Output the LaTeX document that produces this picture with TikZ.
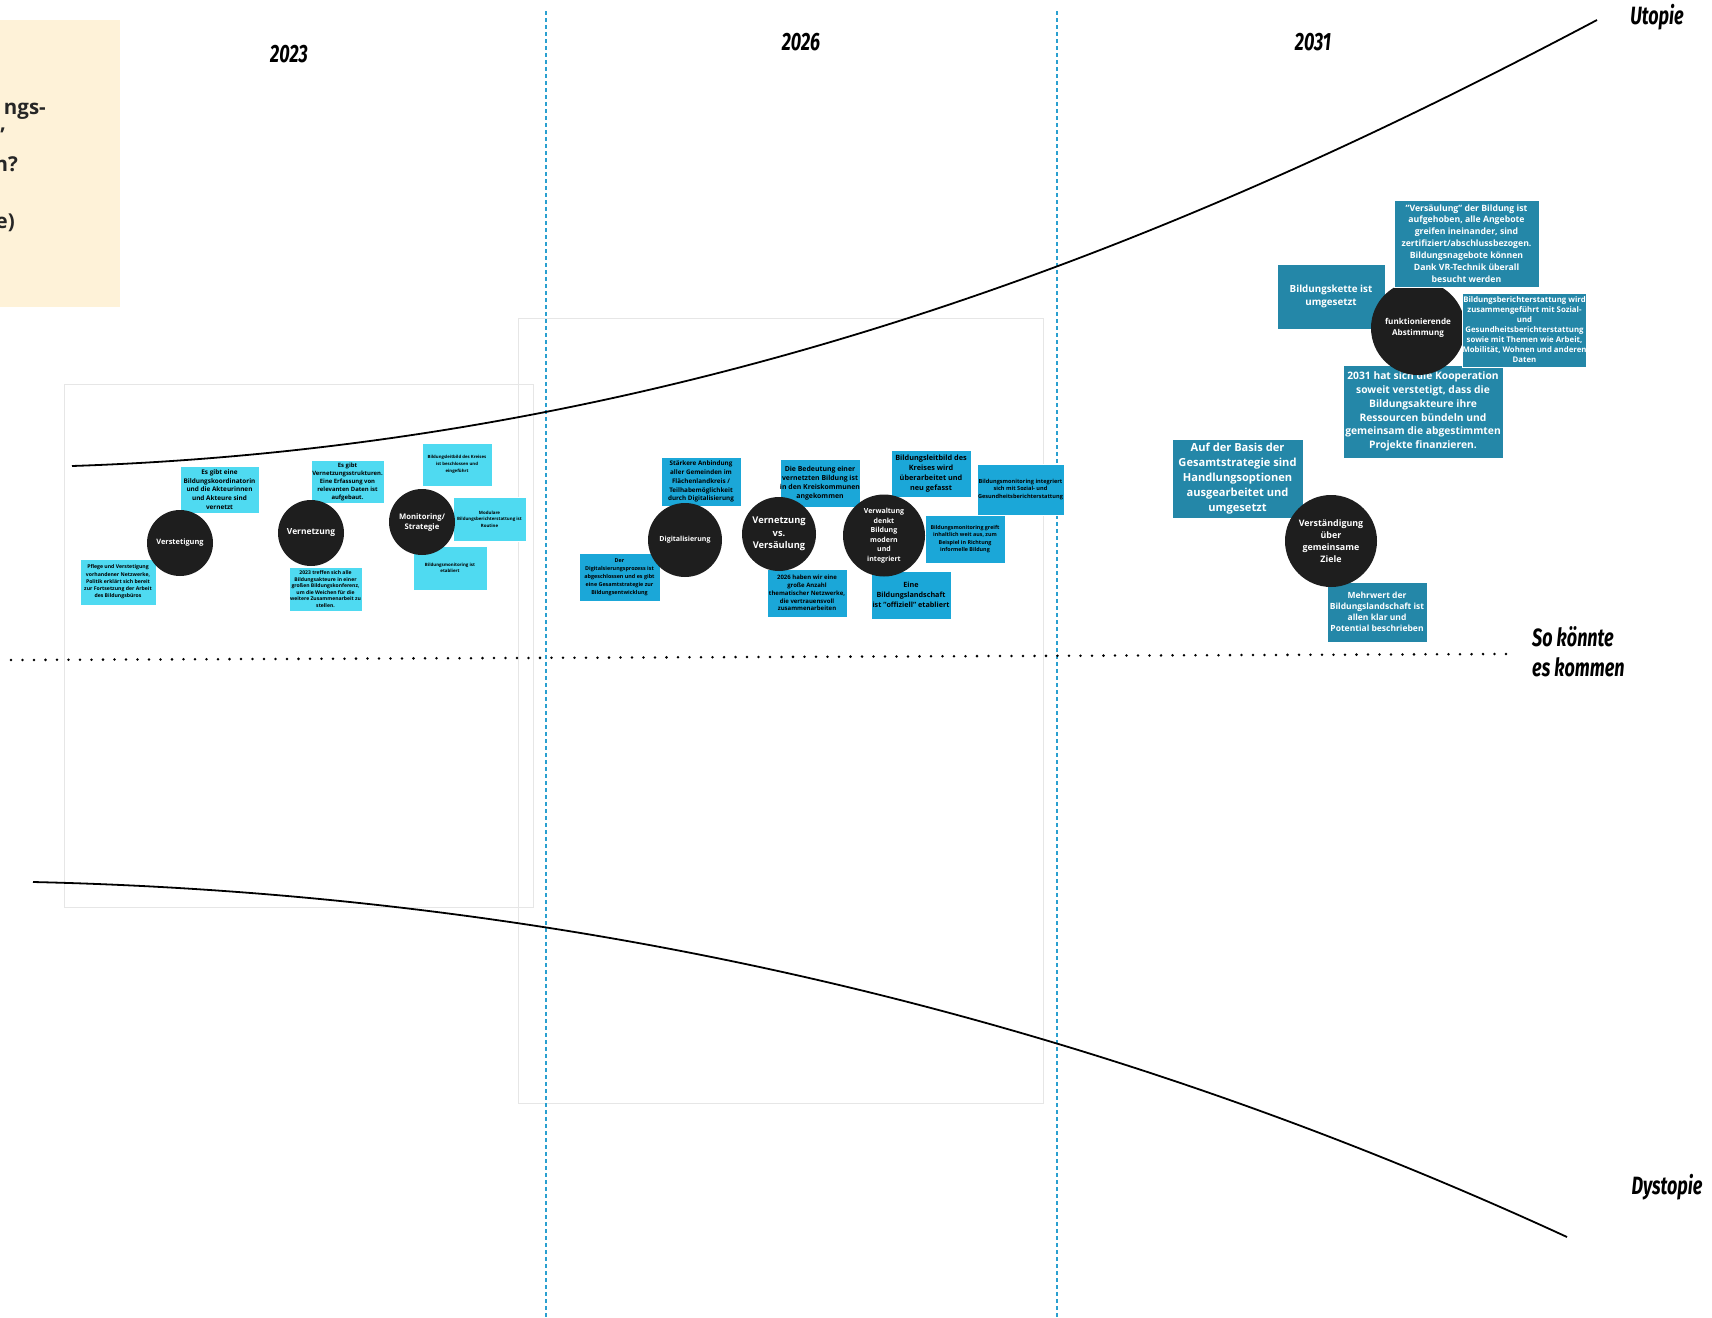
\documentclass[tikz,border=0pt]{standalone}
\usepackage{fontspec}
\setmainfont{Open Sans}
\newfontfamily\hand[FakeStretch=0.72]{Fira Sans}
\definecolor{cyA}{HTML}{4FDAF1}
\definecolor{cyB}{HTML}{1BA7D8}
\definecolor{tealC}{HTML}{2487A8}
\definecolor{discc}{HTML}{1E1E1E}
\definecolor{yel}{HTML}{FEF2D8}
\definecolor{vblue}{HTML}{2AA0D0}
\definecolor{framec}{HTML}{E6E6E6}
\tikzset{
  fs/.style 2 args={font={\fontsize{#1}{#2}\selectfont\bfseries}},
  stk/.style={rectangle, draw=white, line width=0.8pt, inner sep=0pt, align=center},
  c1/.style={stk, fill=cyA, text=black},
  c2/.style={stk, fill=cyB, text=black},
  c3/.style={stk, fill=tealC, text=white},
  disc/.style={circle, fill=discc, inner sep=0pt, align=center, text=white},
  handlbl/.style={font={\hand\fontsize{25}{30}\selectfont\bfseries\itshape}, inner sep=0pt, align=left},
  curveline/.style={line width=1.8pt, black},
  vline/.style={vblue, line width=1.8pt, dash pattern=on 4pt off 3pt},
  frameline/.style={framec, line width=1pt},
  yeltext/.style={font={\fontsize{20.5}{25}\selectfont\bfseries}, inner sep=0pt, text=black!85}
}
\begin{document}
\begin{tikzpicture}[x=1pt,y=-1pt]
\useasboundingbox (0,0) rectangle (1712,1317);
\fill[white] (0,0) rectangle (1712,1317);

% faint frames
\draw[frameline] (64,384) rectangle (533,907);
\draw[frameline] (518,318) rectangle (1043,1103);

% yellow note (clipped at the left edge)
\fill[yel] (0,20) rectangle (120,307);
\begin{scope}
\clip (0,20) rectangle (120,307);
\node[yeltext, anchor=base east] (y1) at (46,114) {ngs-};
\node[yeltext, anchor=base east] (y2) at (5,142) {'};
\node[yeltext, anchor=base east] (y3) at (18,171) {n?};
\node[yeltext, anchor=base east] (y4) at (15,228) {e)};
\end{scope}

% vertical dashed separators
\coordinate (va) at (546,11);
\coordinate (vb) at (546,1317);
\coordinate (vc) at (1057,11);
\coordinate (vd) at (1057,1317);
\draw[vline] (va) -- (vb);
\draw[vline] (vc) -- (vd);

% curves
\coordinate (u0) at (72,466);
\coordinate (u1) at (1597,20);
\draw[curveline] (u0) .. controls (700,445) and (1200,230) .. (u1);
\coordinate (d0) at (33,882);
\coordinate (d1) at (1567,1237);
\draw[curveline] (d0) .. controls (640,896) and (1150,1045) .. (d1);
\coordinate (h0) at (11,660);
\coordinate (h1) at (1507,654);
\draw[line width=2.8pt, line cap=round, dash pattern=on 0pt off 11.5pt] (h0) -- (h1);

% labels
\node[handlbl] (y2023) at (289,54) {2023};
\node[handlbl] (y2026) at (801,42) {2026};
\node[handlbl] (y2031) at (1313,42) {2031};
\node[handlbl] (utop) at (1657,17) {Utopie};
\node[handlbl, anchor=west] (sokk) at (1532,652) {So könnte\\es kommen};
\node[handlbl] (dyst) at (1667,1187) {Dystopie};

% ---- 2023 ----
\node[c1, minimum width=79, minimum height=47, fs={6.4}{8.7}] (a1) at (219.5,489.5) {Es gibt eine\\Bildungskoordinatorin\\und die Akteurinnen\\und Akteure sind\\vernetzt};
\node[c1, minimum width=76, minimum height=46, fs={5.15}{7.3}] (a2) at (118,582) {Pflege und Verstetigung\\vorhandener Netzwerke,\\Politik erklärt sich bereit\\zur Fortsetzung der Arbeit\\des Bildungsbüros};
\node[c1, minimum width=73, minimum height=43, fs={5.9}{8}] (a3) at (347.5,481.5) {Es gibt\\Vernetzungsstrukturen.\\Eine Erfassung von\\relevanten Daten ist\\aufgebaut.};
\node[c1, minimum width=73, minimum height=44, fs={5.05}{6.5}] (a4) at (325.5,589) {2023 treffen sich alle\\Bildungsakteure in einer\\großen Bildungskonferenz,\\um die Weichen für die\\weitere Zusammenarbeit zu\\stellen.};
\node[c1, minimum width=70, minimum height=43, fs={4.3}{6.7}] (a5) at (457,464.5) {Bildungsleitbild des Kreises\\ist beschlossen und\\eingeführt};
\node[c1, minimum width=73, minimum height=44, fs={4.4}{6.5}] (a6) at (489.5,519) {Modulare\\Bildungsberichterstattung ist\\Routine};
\node[c1, minimum width=74, minimum height=44, fs={4.4}{6.5}] (a7) at (450,568) {Bildungsmonitoring ist\\etabliert};

\node[disc, minimum size=66, fs={7.4}{9}] (k1) at (180,543) {Verstetigung};
\node[disc, minimum size=66, fs={8.4}{10}] (k2) at (311,533) {Vernetzung};
\node[disc, minimum size=66, fs={7.7}{10}] (k3) at (422,522) {Monitoring/\\Strategie};

% ---- 2026 ----
\node[c2, minimum width=80, minimum height=49, fs={6.3}{8.9}] (b1) at (701,481.5) {Stärkere Anbindung\\aller Gemeinden im\\Flächenlandkreis /\\Teilhabemöglichkeit\\durch Digitalisierung};
\node[c2, minimum width=81, minimum height=48, fs={5.4}{7.9}] (b2) at (619.5,577) {Der\\Digitalsierungsprozess ist\\abgeschlossen und es gibt\\eine Gesamtstrategie zur\\Bildungsentwicklung};
\node[c2, minimum width=80, minimum height=48, fs={6.9}{8.9}] (b3) at (820,483) {Die Bedeutung einer\\vernetzten Bildung ist\\in den Kreiskommunen\\angekommen};
\node[c2, minimum width=80, minimum height=48, fs={6.0}{7.8}] (b4) at (807,593) {2026 haben wir eine\\große Anzahl\\thematischer Netzwerke,\\die vertrauensvoll\\zusammenarbeiten};
\node[c2, minimum width=80, minimum height=47, fs={7.3}{9.9}] (b5) at (931,473.5) {Bildungsleitbild des\\Kreises wird\\überarbeitet und\\neu gefasst};
\node[c2, minimum width=87, minimum height=51, fs={5.6}{7.5}] (b6) at (1020.5,489.5) {Bildungsmonitoring integriert\\sich mit Sozial- und\\Gesundheitsberichterstattung};
\node[c2, minimum width=80, minimum height=48, fs={5.36}{7.4}] (b7) at (965,539) {Bildungsmonitoring greift\\inhaltlich weit aus, zum\\Beispiel in Richtung\\informelle Bildung};
\node[c2, minimum width=80, minimum height=48, fs={7.2}{9.8}] (b8) at (911,595) {Eine\\Bildungslandschaft\\ist "offiziell" etabliert};

\node[disc, minimum size=74, fs={7}{9}] (k4) at (685,540) {Digitalisierung};
\node[disc, minimum size=74, fs={9.3}{12.5}] (k5) at (779,534) {Vernetzung\\vs.\\Versäulung};
\node[disc, minimum size=82, fs={7}{9.5}] (k6) at (884,535.5) {Verwaltung\\denkt\\Bildung\\modern\\und\\integriert};

% ---- 2031 ----
\node[c3, minimum width=108, minimum height=65, fs={9.8}{13.3}] (c1n) at (1331,296.5) {Bildungskette ist\\umgesetzt};
\node[c3, minimum width=160, minimum height=93, fs={10.3}{13.7}] (c4n) at (1423,411.5) {2031 hat sich die Kooperation\\soweit verstetigt, dass die\\Bildungsakteure ihre\\Ressourcen bündeln und\\gemeinsam die abgestimmten\\Projekte finanzieren.};
\node[disc, minimum size=94, fs={8.1}{11.3}] (k7) at (1418,328) {funktionierende\\Abstimmung};
\node[c3, minimum width=145, minimum height=87, fs={8.7}{11.9}] (c2n) at (1466.5,243.5) {"Versäulung" der Bildung ist\\aufgehoben, alle Angebote\\greifen ineinander, sind\\zertifiziert/abschlussbezogen.\\Bildungsnagebote können\\Dank VR-Technik überall\\besucht werden};
\node[c3, minimum width=123, minimum height=74, fs={7.8}{10}] (c3n) at (1524.5,330) {Bildungsberichterstattung wird\\zusammengeführt mit Sozial-\\und\\Gesundheitsberichterstattung\\sowie mit Themen wie Arbeit,\\Mobilität, Wohnen und anderen\\Daten};
\node[c3, minimum width=131, minimum height=79, fs={11.1}{14.9}] (c5n) at (1237.5,478.5) {Auf der Basis der\\Gesamtstrategie sind\\Handlungsoptionen\\ausgearbeitet und\\umgesetzt};
\node[c3, minimum width=100, minimum height=60, fs={8.5}{11.2}] (c6n) at (1377,612) {Mehrwert der\\Bildungslandschaft ist\\allen klar und\\Potential beschrieben};
\node[disc, minimum size=92, fs={8.9}{11.8}] (k8) at (1331,541) {Verständigung\\über\\gemeinsame\\Ziele};
\end{tikzpicture}
\end{document}
